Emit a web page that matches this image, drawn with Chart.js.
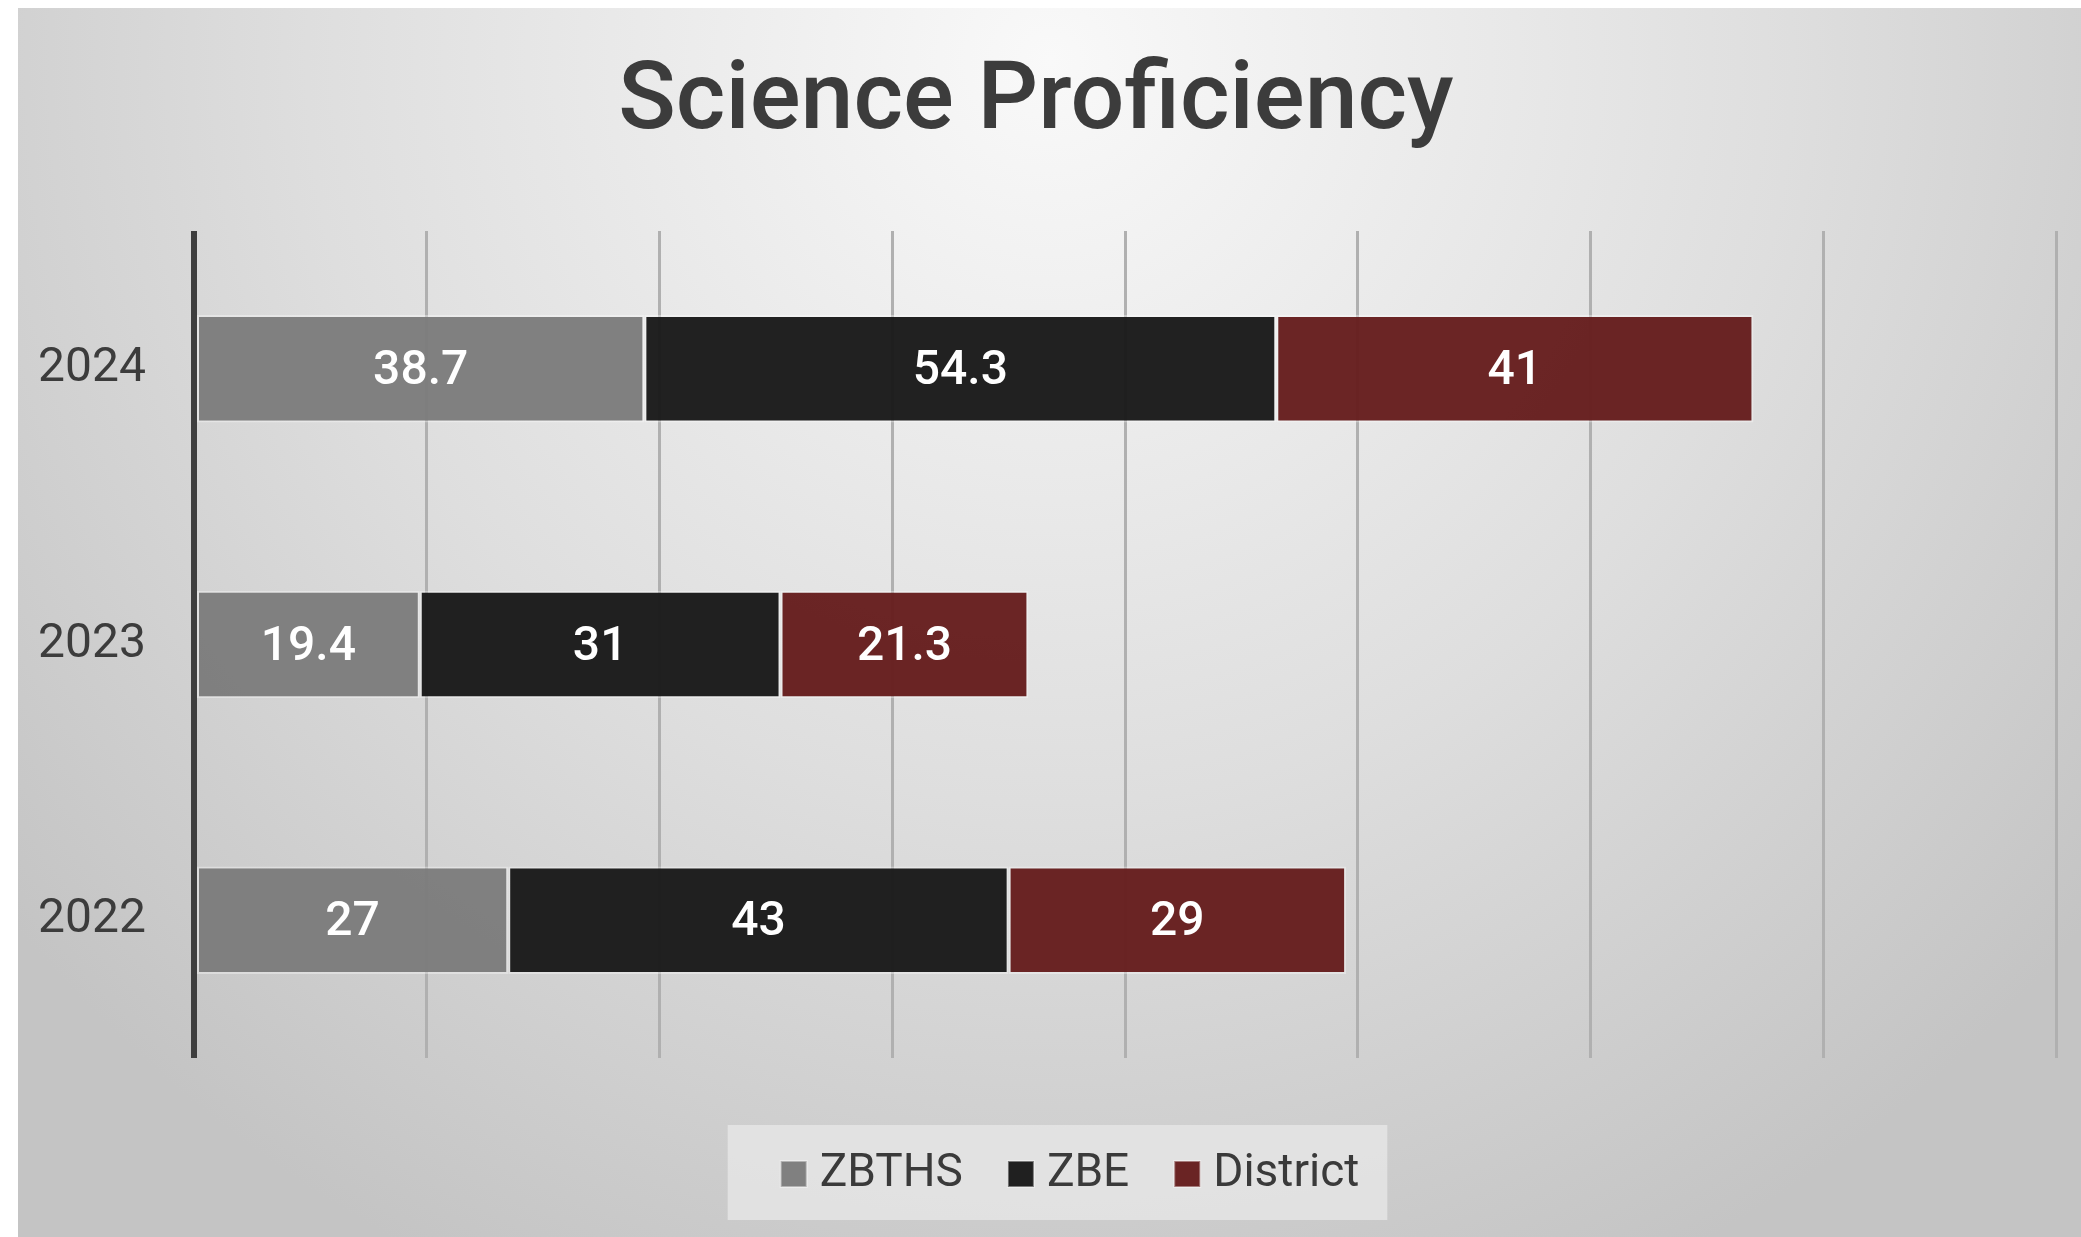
<!DOCTYPE html>
<html>
<head>
<meta charset="utf-8">
<title>Science Proficiency</title>
<script src="https://cdn.jsdelivr.net/npm/chart.js@4.4.1/dist/chart.umd.min.js"></script>
<style>
  html, body { margin: 0; padding: 0; background: #ffffff; }
  #wrap { position: relative; width: 2081px; height: 1237px; }
</style>
</head>
<body>
<div id="wrap"><canvas id="scienceChart"></canvas></div>
<script>
// Chart data
const years = ['2024', '2023', '2022'];
const seriesNames = ['ZBTHS', 'ZBE', 'District'];
const zbthsValues = [38.7, 19.4, 27];
const zbeValues = [54.3, 31, 43];
const districtValues = [41, 21.3, 29];
const axisMax = 160;
const axisStep = 20;

const fillColors = ['rgba(124,124,124,0.96)', 'rgba(26,26,26,0.97)', 'rgba(102,30,30,0.97)'];
const labelFont = { family: 'Roboto, "Liberation Sans", sans-serif', size: 46 };

// legend entries that belong to a real dataset (skips the spacer)
function realLegendBoxes(chart) {
    const legend = chart.legend;
    if (!legend || !legend.legendHitBoxes) return [];
    return legend.legendHitBoxes
        .map((hb, i) => ({ hb, item: legend.legendItems[i] }))
        .filter(o => o.item && o.item.datasetIndex !== undefined);
}

// Grey radial backdrop, starts a little in from the top-left corner
const backdrop = {
    id: 'backdrop',
    beforeDraw(chart) {
        const { ctx, width, height } = chart;
        ctx.save();
        ctx.fillStyle = '#ffffff';
        ctx.fillRect(0, 0, width, height);
        const g = ctx.createRadialGradient(1050, 60, 0, 1050, 60, 1350);
        g.addColorStop(0, '#f9f9f9');
        g.addColorStop(0.55, '#dedede');
        g.addColorStop(1, '#c4c4c4');
        ctx.fillStyle = g;
        ctx.fillRect(18, 8, width - 18, height - 8);

        // light panel behind the legend
        const boxes = realLegendBoxes(chart);
        if (boxes.length) {
            const first = boxes[0].hb;
            const last = boxes[boxes.length - 1].hb;
            const left = first.left - 16 - 53;
            const right = last.left + last.width + 28;
            const cy = first.top + first.height / 2;
            ctx.fillStyle = 'rgba(232,232,232,0.75)';
            ctx.fillRect(left, cy - 49, right - left, 95);
        }
        ctx.restore();
    },
    // legend squares sit closer to their text than Chart.js puts them
    afterDraw(chart) {
        const { ctx } = chart;
        ctx.save();
        realLegendBoxes(chart).forEach(({ hb, item }) => {
            const cy = hb.top + hb.height / 2;
            ctx.fillStyle = fillColors[item.datasetIndex];
            ctx.fillRect(hb.left - 16, cy - 13, 26, 26);
            ctx.strokeStyle = 'rgba(255,255,255,0.4)';
            ctx.lineWidth = 2;
            ctx.strokeRect(hb.left - 16, cy - 13, 26, 26);
        });
        ctx.restore();
    }
};

// Value labels in the middle of every segment
const segmentLabels = {
    id: 'segmentLabels',
    afterDatasetsDraw(chart) {
        const { ctx } = chart;
        ctx.save();
        ctx.font = '500 48px Roboto, "Liberation Sans", sans-serif';
        ctx.fillStyle = '#ffffff';
        ctx.textAlign = 'center';
        ctx.textBaseline = 'middle';
        chart.data.datasets.forEach((ds, i) => {
            const meta = chart.getDatasetMeta(i);
            meta.data.forEach((bar, j) => {
                const { x, y, base } = bar.getProps(['x', 'y', 'base'], true);
                ctx.fillText(String(ds.data[j]), (x + base) / 2, y + 3);
            });
        });
        ctx.restore();
    }
};

const ctx = document.getElementById('scienceChart').getContext('2d');
new Chart(ctx, {
    type: 'bar',
    data: {
        labels: years,
        datasets: [zbthsValues, zbeValues, districtValues].map((values, i) => ({
            label: seriesNames[i],
            data: values,
            backgroundColor: fillColors[i],
            borderColor: 'rgba(255,255,255,0.35)',
            borderWidth: 2,
            borderSkipped: false,
            categoryPercentage: 1,
            barPercentage: 0.39
        }))
    },
    options: {
        indexAxis: 'y',
        responsive: true,
        maintainAspectRatio: false,
        animation: false,
        layout: { padding: { left: 16, right: 25, top: 8, bottom: 30 } },
        scales: {
            x: {
                stacked: true,
                min: 0,
                max: axisMax,
                ticks: { display: false, stepSize: axisStep },
                border: { display: false },
                grid: {
                    drawTicks: false,
                    color: c => c.tick && c.tick.value === 0 ? '#3e3e3e' : '#b0b0b0',
                    lineWidth: c => c.tick && c.tick.value === 0 ? 6 : 3
                },
                afterFit(scale) { scale.height = 32; }
            },
            y: {
                stacked: true,
                border: { display: false },
                grid: { display: false, drawTicks: false },
                ticks: {
                    padding: 48,
                    color: '#3c3c3c',
                    font: { family: 'Roboto, "Liberation Sans", sans-serif', size: 48 }
                },
                afterFit(scale) { scale.width = 178; }
            }
        },
        plugins: {
            title: {
                display: true,
                text: 'Science Proficiency',
                color: '#3c3c3c',
                font: { family: 'Roboto, "Liberation Sans", sans-serif', size: 95, weight: '500', lineHeight: 1.2 },
                padding: { top: 39, bottom: 70 }
            },
            legend: {
                position: 'bottom',
                labels: {
                    boxWidth: 0,
                    boxHeight: 0,
                    padding: 61,
                    color: '#3a3a3a',
                    font: labelFont,
                    generateLabels(chart) {
                        const items = Chart.defaults.plugins.legend.labels.generateLabels(chart).map(item => ({
                            ...item,
                            fillStyle: 'rgba(0,0,0,0)',
                            strokeStyle: 'rgba(0,0,0,0)',
                            lineWidth: 0
                        }));
                        // empty spacer in front nudges the centred row to the right
                        items.unshift({ text: '', fillStyle: 'rgba(0,0,0,0)', strokeStyle: 'rgba(0,0,0,0)', lineWidth: 0, hidden: false });
                        return items;
                    }
                },
                onClick: () => {}
            },
            tooltip: { enabled: false }
        }
    },
    plugins: [backdrop, segmentLabels]
});
</script>
</body>
</html>
